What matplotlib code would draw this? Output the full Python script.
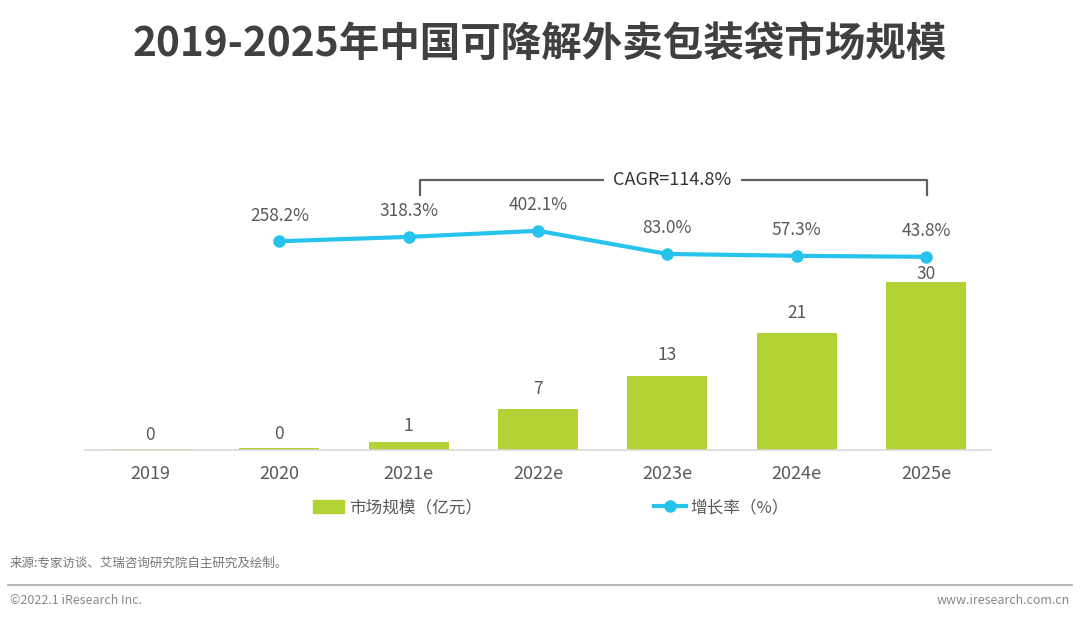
import matplotlib
matplotlib.use("Agg")
import matplotlib.pyplot as plt
from matplotlib.lines import Line2D
from matplotlib.patches import Patch
import matplotlib.transforms as mtransforms

plt.rcParams['font.family'] = ['Noto Sans CJK SC', 'DejaVu Sans']

# ---- data ----
categories = ["2019", "2020", "2021e", "2022e", "2023e", "2024e", "2025e"]
market_size = [0.1, 0.3, 1.4, 7.3, 13.3, 20.9, 30.0]          # 亿元
growth_years = ["2020", "2021e", "2022e", "2023e", "2024e", "2025e"]
growth_rate = [258.2, 318.3, 402.1, 83.0, 57.3, 43.8]          # %
cagr_text = "CAGR=114.8%"
title = "2019-2025年中国可降解外卖包装袋市场规模"
bar_legend = "市场规模（亿元）"
line_legend = "增长率（%）"
source = "来源:专家访谈、艾瑞咨询研究院自主研究及绘制。"
copyright_txt = "©2022.1 iResearch Inc."
website = "www.iresearch.com.cn"

BAR_C = "#B2D235"
LINE_C = "#27C3EC"
TXT_C = "#595959"

fig = plt.figure(figsize=(10.8, 6.2), dpi=100)
ax = fig.add_axes([85.3/1080, 170/620, 905.4/1080, 300/620])

x = list(range(len(categories)))
bars = ax.bar(x, market_size, width=0.62, color=BAR_C, zorder=2)
ax.set_xlim(-0.5, len(categories) - 0.5)
ax.set_ylim(0, 300/5.6)
ax.set_yticks([])
for s in ["top", "right", "left"]:
    ax.spines[s].set_visible(False)
ax.spines["bottom"].set_color("#D9D9D9")
ax.spines["bottom"].set_linewidth(1.2)
ax.set_xticks(x)
ax.set_xticklabels(categories, fontsize=13, color=TXT_C)
ax.tick_params(axis="x", length=0, pad=11)

label_offsets = [4, 4, 5, 8, 8, 8, -1]
for xi, v, off in zip(x, market_size, label_offsets):
    ax.annotate(f"{v:.0f}", (xi, v), xytext=(0, off), textcoords="offset points",
                ha="center", va="bottom", fontsize=12.5, color=TXT_C, zorder=5)

ax2 = ax.twinx()
ax2.set_ylim(-2617, 1515)
ax2.axis("off")
gx = [categories.index(g) for g in growth_years]
ax2.plot(gx, growth_rate, color=LINE_C, lw=3, marker="o", markersize=8, zorder=4)
for xi, v in zip(gx, growth_rate):
    ax2.annotate(f"{v:.1f}%", (xi, v), xytext=(0, 12), textcoords="offset points",
                 ha="center", va="bottom", fontsize=12.5, color=TXT_C)

# CAGR bracket
trans = mtransforms.blended_transform_factory(ax.transData, ax.transAxes)
xs, xe = 2.09, 6.01
ax.plot([xs, xs, xe, xe], [0.85, 0.9, 0.9, 0.85], color="#606060", lw=1.6,
        transform=trans, clip_on=False, zorder=3)
ax.text((xs + xe) / 2 - 0.01, 0.9, cagr_text, transform=trans, ha="center", va="center",
        fontsize=13, color="#333333", zorder=4,
        bbox=dict(boxstyle="square,pad=0.5", fc="white", ec="none"))

# legend
handles = [Patch(color=BAR_C, label=bar_legend),
           Line2D([0], [0], color=LINE_C, lw=3, marker="o", markersize=8, label=line_legend)]
leg = fig.legend(handles=handles, loc="center", bbox_to_anchor=(551/1080, 1 - 508/620),
                 ncol=2, frameon=False, fontsize=12, handlelength=1.9, handleheight=0.8,
                 handletextpad=0.3, columnspacing=10.3)
for t in leg.get_texts():
    t.set_color(TXT_C)

fig.text(0.5, 1 - 45/620, title, ha="center", va="center", fontsize=29.2,
         fontweight="bold", color="#404040")

fig.text(10/1080, 1 - 563/620, source, ha="left", va="center", fontsize=9, color="#777777")
fig.add_artist(Line2D([8/1080, 1072/1080], [1 - 585/620, 1 - 585/620],
                      color="#AAAAAA", lw=1.2))
fig.text(10/1080, 1 - 600/620, copyright_txt, ha="left", va="center", fontsize=9, color="#888888")
fig.text(1070/1080, 1 - 600/620, website, ha="right", va="center", fontsize=9, color="#888888")

fig.savefig("out.png", dpi=100, facecolor="white")
